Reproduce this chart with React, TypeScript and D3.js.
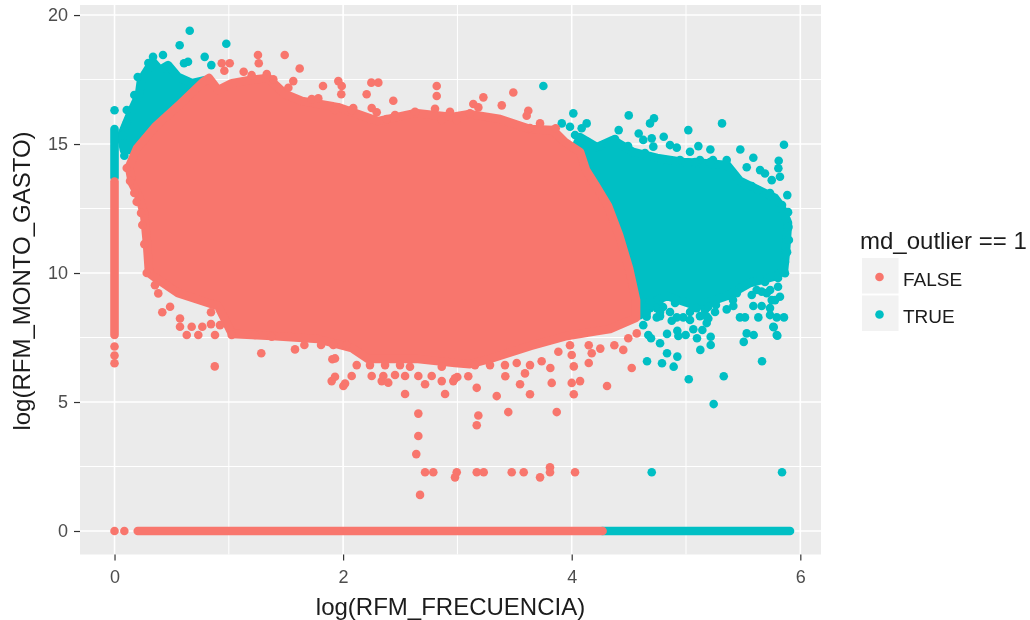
import { useEffect, useRef } from "react";
import * as d3 from "d3";

type Pt = [number, number];

const WIDTH = 1030;
const HEIGHT = 620;
const PANEL = { left: 80, right: 821, top: 5, bottom: 554.5 };
const POINT_R = 4.3;

const RED = "#F8766D";
const TEAL = "#00BFC4";
const FONT = "'Liberation Sans', Arial, sans-serif";

const majorX = [0, 2, 4, 6];
const minorX = [1, 3, 5];
const majorY = [0, 5, 10, 15, 20];
const minorY = [2.5, 7.5, 12.5, 17.5];
const legendLabels = ["FALSE", "TRUE"];

// solid part of the cloud, where the points merge: outlines in (log freq, log monto)
const falseCloud: Pt[] = [
  [0.127, 14.11], [0.197, 14.84], [0.354, 15.66], [0.573, 16.55], [0.774, 17.4], [0.827, 17.56],
  [0.906, 17.09], [1.028, 17.36], [1.185, 17.48], [1.343, 17.56], [1.492, 16.94], [1.64, 16.67],
  [1.955, 16.43], [2.305, 15.89], [2.629, 16.2], [2.953, 16.05], [3.11, 16.16], [3.373, 15.97],
  [3.635, 15.58], [3.836, 15.54], [3.941, 15.08], [4.073, 14.69], [4.125, 13.99], [4.213, 13.37],
  [4.318, 12.6], [4.414, 11.47], [4.501, 10.19], [4.563, 8.95], [4.563, 8.26], [4.335, 7.83],
  [3.959, 7.56], [3.635, 7.17], [3.285, 6.67], [3.11, 6.47], [2.979, 6.51], [2.655, 6.67],
  [2.218, 6.67], [2.078, 7.09], [1.78, 7.44], [1.378, 7.56], [1.028, 7.64], [0.906, 8.72],
  [0.556, 9.22], [0.337, 9.88], [0.302, 10.0], [0.284, 11.16], [0.258, 12.33], [0.214, 12.95],
  [0.153, 13.49],
];

const trueCloudLeft: Pt[] = [
  [0.083, 14.77], [0.057, 15.31], [0.144, 16.24], [0.214, 16.9], [0.232, 17.48], [0.302, 17.98],
  [0.337, 18.18], [0.398, 17.87], [0.468, 18.06], [0.556, 17.6], [0.678, 17.36], [0.792, 17.48],
  [0.836, 17.09], [0.311, 14.77],
];

const trueCloudRight: Pt[] = [
  [4.073, 15.27], [4.221, 14.88], [4.361, 15.16], [4.536, 14.69], [4.746, 14.46], [4.974, 14.3],
  [5.149, 14.26], [5.359, 14.19], [5.472, 13.57], [5.691, 13.1], [5.779, 12.91], [5.831, 12.6],
  [5.892, 11.94], [5.875, 10.89], [5.858, 10.12], [5.788, 9.88], [5.56, 9.61], [5.359, 9.11],
  [5.096, 8.72], [4.834, 9.11], [4.685, 8.84], [4.598, 8.37], [4.248, 8.95], [3.985, 14.38],
];

// runs of overlapping points along x = 0 and y = 0
const trueRuns: Pt[][] = [
  [[0, 15.58], [0, 13.7]],
  [[4.27, 0], [5.91, 0]],
];
const falseRuns: Pt[][] = [
  [[0, 13.55], [0, 7.6]],
  [[0.203, 0], [4.27, 0]],
];

const falsePoints: Pt[] = [
  [1.255, 18.45], [1.489, 18.45], [1.62, 17.93], [1.262, 18.13], [0.938, 18.13], [1.008, 18.13],
  [0.961, 17.84], [1.13, 17.8], [1.2, 17.67], [1.332, 17.71], [1.389, 17.51], [1.564, 17.44],
  [1.521, 17.18], [1.824, 17.25], [1.958, 17.44], [1.988, 17.25], [1.984, 16.93], [2.247, 17.38],
  [2.308, 17.38], [2.206, 16.93], [2.439, 16.68], [2.819, 17.25], [2.819, 16.86], [2.935, 16.25],
  [2.804, 16.37], [2.629, 16.25], [2.454, 16.12], [2.294, 16.23], [2.089, 16.4], [1.929, 16.32],
  [1.725, 16.74], [1.783, 16.77], [3.227, 16.81], [3.489, 17.0], [3.139, 16.55], [3.183, 16.42],
  [3.388, 16.5], [3.62, 16.29], [3.606, 16.1], [3.723, 15.8], [3.86, 15.61], [2.994, 15.93],
  [3.11, 16.19], [3.635, 15.62], [2.075, 16.32], [2.25, 16.4], [2.381, 15.97], [2.863, 15.93],
  // left edge
  [0.107, 14.07], [0.136, 13.57], [0.173, 13.1], [0.194, 12.76], [0.232, 12.33], [0.243, 11.86],
  [0.261, 11.12], [0.282, 10.0], [0.354, 9.53],
  // below the cloud
  [2.979, 5.92], [2.999, 5.97], [3.095, 6.0], [3.169, 5.55], [3.344, 5.23], [3.419, 6.0],
  [3.548, 5.69], [3.635, 5.3], [3.825, 5.74], [4.0, 5.74], [4.073, 5.81], [4.018, 5.3],
  [4.309, 5.62], [4.525, 6.32], [4.451, 7.02], [4.373, 7.2], [4.25, 7.07], [4.149, 6.51],
  [4.018, 6.38], [3.813, 6.32], [3.737, 6.58], [3.591, 6.11], [4.149, 7.2], [4.175, 6.89],
  [4.0, 6.82], [3.985, 7.2], [3.883, 6.95], [4.569, 7.66], [4.495, 7.47], [3.445, 4.61],
  [3.869, 4.61], [3.183, 4.48], [3.169, 4.1], [3.416, 6.43], [3.519, 6.51], [3.635, 6.43],
  [3.154, 6.43], [3.285, 6.43],
  [0.877, 6.38], [1.284, 6.89], [1.579, 7.04], [1.661, 7.21], [1.906, 6.66], [1.929, 6.69],
  [1.9, 5.81], [1.929, 5.98], [2.002, 5.62], [2.017, 5.72], [2.075, 6.01], [2.25, 6.01],
  [2.338, 5.81], [2.352, 6.01], [2.395, 5.75], [2.454, 6.05], [2.542, 6.01], [2.658, 6.01],
  [2.717, 5.69], [2.775, 6.01], [2.863, 5.81], [2.964, 5.81], [2.542, 5.31], [2.892, 5.31],
  [2.119, 6.43], [2.235, 6.43], [2.367, 6.43], [2.498, 6.43], [2.585, 6.37], [2.863, 6.37],
  [0.383, 9.21], [0.418, 8.48], [0.486, 8.69], [0.573, 8.24], [0.573, 7.92], [0.632, 7.6],
  [0.675, 7.92], [0.733, 7.6], [0.768, 7.92], [0.844, 8.48], [0.844, 8.02], [0.879, 7.6],
  [0.923, 7.98], [1.025, 7.6], [1.229, 7.6], [1.375, 7.53], [1.807, 7.21], [1.914, 7.21],
  [2.032, 7.21],
  // low values
  [2.658, 4.55], [2.658, 3.68], [2.64, 2.98], [2.717, 2.28], [2.789, 2.28], [2.673, 1.4],
  [2.994, 2.28], [2.979, 2.08], [3.169, 2.28], [3.23, 2.28], [3.475, 2.28], [3.58, 2.28],
  [3.723, 2.08], [3.81, 2.47], [3.81, 2.28], [4.029, 2.28],
  // bottoms of the x = 0 run and the first zero rows
  [0, 7.15], [0, 6.8], [0, 6.5], [0, 0], [0.086, 0],
];

const truePoints: Pt[] = [
  [0.658, 19.39], [0.57, 18.83], [0.978, 18.89], [0.424, 18.45], [0.337, 18.38], [0.789, 18.38],
  [0.847, 18.06], [0.643, 18.19], [0.608, 18.13], [0.296, 18.14], [0, 16.31], [0.107, 16.32],
  [0.086, 14.55], [0.203, 17.6], [0.173, 16.9], [0.107, 15.81], [0.074, 15.35], [0.311, 18.0],
  [3.752, 17.25], [4.014, 16.19], [3.913, 15.8], [4.131, 15.8], [4.087, 15.61], [3.985, 15.67],
  [4.029, 15.35], [4.499, 16.11], [4.72, 16.0], [4.685, 15.8], [4.411, 15.54], [4.586, 15.41],
  [4.805, 15.28], [5.02, 15.54], [5.315, 15.8], [4.626, 15.16], [4.7, 15.22], [4.714, 14.9],
  [4.86, 14.96], [4.919, 14.86], [5.035, 14.7], [5.108, 14.92], [5.213, 14.79], [5.475, 14.79],
  [5.589, 14.47], [5.857, 14.97], [5.811, 14.35], [5.808, 14.06], [5.822, 13.73], [5.531, 14.1],
  [5.648, 13.99], [5.691, 13.86], [5.75, 13.6], [5.575, 13.37], [5.886, 13.02], [5.356, 14.38],
  [5.122, 14.38], [5.236, 14.38],
  // edge of the right cloud
  [4.248, 14.92], [4.379, 15.19], [4.493, 14.92], [4.641, 14.65], [4.79, 14.38], [4.948, 14.38],
  [5.079, 14.3], [5.21, 14.3], [5.516, 13.41], [5.63, 13.22], [5.735, 13.1], [5.84, 12.64],
  [5.893, 12.36], [5.897, 11.78], [5.9, 11.28], [5.884, 10.81], [5.866, 10.43], [5.805, 9.81],
  [5.691, 9.65], [5.577, 9.65], [5.472, 9.42], [5.262, 8.76], [5.166, 8.57], [5.035, 8.49],
  [4.904, 8.84], [4.773, 8.76], [4.685, 8.95],
  // under the right cloud
  [5.866, 9.99], [5.822, 9.08], [5.805, 9.47], [5.736, 9.34], [5.662, 9.28], [5.575, 9.15],
  [5.589, 8.72], [5.662, 8.72], [5.75, 8.95], [5.735, 8.37], [5.857, 8.28], [5.794, 8.28],
  [5.633, 8.28], [5.472, 8.28], [5.516, 8.28], [5.414, 8.72], [5.356, 8.59], [5.195, 8.24],
  [4.976, 8.28], [4.919, 8.28], [4.875, 8.15], [4.773, 8.33], [4.744, 8.28], [4.656, 8.31],
  [4.626, 7.98], [5.181, 8.06], [5.764, 7.92], [5.794, 7.6], [4.67, 7.6], [4.694, 7.47],
  [4.773, 7.28], [4.834, 7.64], [4.924, 7.76], [4.933, 7.56], [4.997, 7.6], [5.064, 7.82],
  [5.096, 7.47], [5.143, 7.79], [5.216, 7.53], [5.216, 7.21], [5.125, 7.02], [4.834, 6.89],
  [4.924, 6.76], [4.659, 6.58], [4.79, 6.5], [4.892, 6.37], [5.024, 5.88], [5.33, 6.0],
  [5.242, 4.92], [5.665, 6.58], [5.505, 7.33], [5.531, 7.66], [5.592, 7.6], [5.799, 7.57],
  [5.767, 7.9], [4.7, 2.28], [5.84, 2.28],
  // clumps that join the right cloud to the loose points
  [5.618, 9.34], [5.706, 9.22], [5.779, 8.95], [5.735, 8.64], [5.444, 9.22], [5.411, 8.95],
  [5.181, 8.31], [5.193, 8.68], [5.094, 8.64], [4.919, 8.95], [4.799, 8.68], [4.744, 8.64],
  [4.685, 8.64], [4.656, 8.45], [4.773, 8.49], [4.86, 8.49], [5.035, 8.18], [5.122, 8.33],
  [5.254, 8.49],
];

const App = () => {
  const svgRef = useRef<SVGSVGElement>(null);

  useEffect(() => {
    const x = d3.scaleLinear().domain([-0.302, 6.181]).range([PANEL.left, PANEL.right]);
    const y = d3.scaleLinear().domain([-0.911, 20.39]).range([PANEL.bottom, PANEL.top]);

    const svg = d3.select(svgRef.current);
    svg.selectAll("*").remove();

    // the reference is a slightly soft screenshot
    svg
      .append("defs")
      .append("filter")
      .attr("id", "soft")
      .append("feGaussianBlur")
      .attr("stdDeviation", 0.45);

    const root = svg.append("g").attr("filter", "url(#soft)");

    root
      .append("rect")
      .attr("x", PANEL.left)
      .attr("y", PANEL.top)
      .attr("width", PANEL.right - PANEL.left)
      .attr("height", PANEL.bottom - PANEL.top)
      .attr("fill", "#EBEBEB");

    const drawGridX = (values: number[], width: number) =>
      root
        .append("g")
        .selectAll("line")
        .data(values)
        .join("line")
        .attr("x1", (d) => x(d))
        .attr("x2", (d) => x(d))
        .attr("y1", PANEL.top)
        .attr("y2", PANEL.bottom)
        .attr("stroke", "#fff")
        .attr("stroke-width", width);

    const drawGridY = (values: number[], width: number) =>
      root
        .append("g")
        .selectAll("line")
        .data(values)
        .join("line")
        .attr("x1", PANEL.left)
        .attr("x2", PANEL.right)
        .attr("y1", (d) => y(d))
        .attr("y2", (d) => y(d))
        .attr("stroke", "#fff")
        .attr("stroke-width", width);

    drawGridX(minorX, 1);
    drawGridY(minorY, 1);
    drawGridX(majorX, 1.6);
    drawGridY(majorY, 1.6);

    const outline = d3
      .line<Pt>()
      .x((d) => x(d[0]))
      .y((d) => y(d[1]));
    const closedOutline = d3
      .line<Pt>()
      .x((d) => x(d[0]))
      .y((d) => y(d[1]))
      .curve(d3.curveLinearClosed);

    const drawSeries = (clouds: Pt[][], runs: Pt[][], points: Pt[], color: string) => {
      const g = root.append("g");
      g.selectAll("path.cloud")
        .data(clouds)
        .join("path")
        .attr("class", "cloud")
        .attr("d", (d) => closedOutline(d))
        .attr("fill", color)
        .attr("stroke", color)
        .attr("stroke-width", POINT_R * 2)
        .attr("stroke-linejoin", "round");
      g.selectAll("path.run")
        .data(runs)
        .join("path")
        .attr("class", "run")
        .attr("d", (d) => outline(d))
        .attr("fill", "none")
        .attr("stroke", color)
        .attr("stroke-width", POINT_R * 2)
        .attr("stroke-linecap", "round");
      g.selectAll("circle")
        .data(points)
        .join("circle")
        .attr("cx", (d) => x(d[0]))
        .attr("cy", (d) => y(d[1]))
        .attr("r", POINT_R)
        .attr("fill", color);
    };

    drawSeries([trueCloudLeft, trueCloudRight], trueRuns, truePoints, TEAL);
    drawSeries([falseCloud], falseRuns, falsePoints, RED);

    const xAxis = root
      .append("g")
      .attr("transform", `translate(0,${PANEL.bottom})`)
      .call(d3.axisBottom(x).tickValues(majorX).tickFormat(d3.format("d")).tickSize(6).tickPadding(10));
    const yAxis = root
      .append("g")
      .attr("transform", `translate(${PANEL.left},0)`)
      .call(d3.axisLeft(y).tickValues(majorY).tickFormat(d3.format("d")).tickSize(6).tickPadding(6));

    [xAxis, yAxis].forEach((axis) => {
      axis.select(".domain").remove();
      axis.selectAll("line").attr("stroke", "#333").attr("stroke-width", 1.2);
      axis
        .selectAll("text")
        .attr("fill", "#4D4D4D")
        .attr("font-family", FONT)
        .attr("font-size", 18);
    });

    const titleStyle = (sel: any) =>
      sel.attr("font-family", FONT).attr("font-size", 24).attr("fill", "#1a1a1a");

    root
      .append("text")
      .attr("x", (PANEL.left + PANEL.right) / 2)
      .attr("y", 615)
      .attr("text-anchor", "middle")
      .text("log(RFM_FRECUENCIA)")
      .call(titleStyle);

    root
      .append("text")
      .attr("transform", `translate(30,281) rotate(-90)`)
      .attr("text-anchor", "middle")
      .text("log(RFM_MONTO_GASTO)")
      .call(titleStyle);

    root
      .append("text")
      .attr("x", 860)
      .attr("y", 249)
      .text("md_outlier == 1")
      .call(titleStyle);

    const legend = root
      .append("g")
      .selectAll("g")
      .data(legendLabels)
      .join("g")
      .attr("transform", (_, i) => `translate(862,${258 + i * 37.5})`);
    legend
      .append("rect")
      .attr("width", 36.5)
      .attr("height", 35.5)
      .attr("fill", "#F2F2F2");
    legend
      .append("circle")
      .attr("cx", 17.5)
      .attr("cy", 19)
      .attr("r", POINT_R)
      .attr("fill", (_, i) => (i === 0 ? RED : TEAL));
    legend
      .append("text")
      .attr("x", 41)
      .attr("y", 27.5)
      .attr("font-family", FONT)
      .attr("font-size", 19)
      .attr("fill", "#1a1a1a")
      .text((d) => d);
  }, []);

  return (
    <svg
      ref={svgRef}
      width={WIDTH}
      height={HEIGHT}
      style={{ position: "absolute", left: 0, top: 0, background: "#fff" }}
    />
  );
};

export default App;
